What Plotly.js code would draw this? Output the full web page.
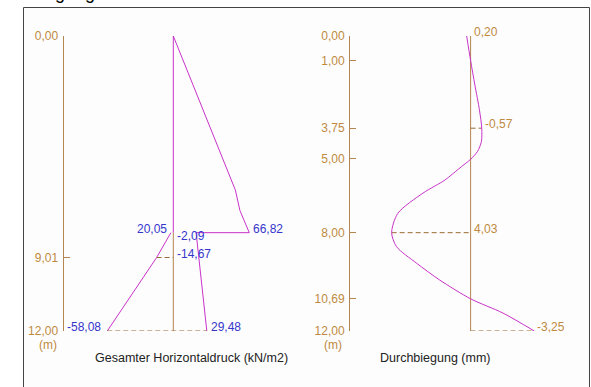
<!DOCTYPE html>
<html>
<head>
<meta charset="utf-8">
<script src="https://cdn.plot.ly/plotly-3.0.1.min.js"></script>
<style>html,body{margin:0;padding:0;background:#fff;}#chart{width:591px;height:387px;}</style>
</head>
<body>
<div id="chart"></div>
<script>
// ---- data ----
// Gesamter Horizontaldruck (kN/m2), depth in m
var pressPosDepth = [0, 6.27, 7.1, 8.0, 8.0, 12.0];
var pressPosValue = [0, 54.6, 58.6, 66.82, 20.05, 29.48];
var pressNegDepth = [8.0, 9.01, 12.0];
var pressNegValue = [-2.09, -14.67, -58.08];
var pressTickVals = [0, 9.01, 12];
var pressTickText = ['0,00', '9,01', '12,00'];
var pressLabels = [
  {d: 8.0, v: 66.82, t: '66,82', side: 'right', dy: 4},
  {d: 8.0, v: 0, t: '20,05', side: 'left', dy: 4},
  {d: 8.0, v: 0, t: '-2,09', side: 'right', dy: -3},
  {d: 9.01, v: 0, t: '-14,67', side: 'right', dy: 4},
  {d: 12.0, v: -58.08, t: '-58,08', side: 'left', dy: 4},
  {d: 12.0, v: 29.48, t: '29,48', side: 'right', dy: 4}
];

// Durchbiegung (mm), depth in m
var deflDepth = [0, 1.0, 2.0, 3.0, 3.75, 4.3, 4.7, 5.0, 5.4, 5.86, 6.39, 7.21, 8.0, 8.57, 9.24, 9.93, 10.69, 11.27, 12.0];
var deflValue = [0.20, 0.0, -0.22, -0.45, -0.57, -0.55, -0.35, -0.02, 0.6, 1.31, 2.43, 3.71, 4.03, 3.78, 2.76, 1.57, 0.0, -1.65, -3.25];
var deflTickVals = [0, 1, 3.75, 5, 8, 10.69, 12];
var deflTickText = ['0,00', '1,00', '3,75', '5,00', '8,00', '10,69', '12,00'];
var deflLabels = [
  {d: 0, v: 0, t: '0,20'},
  {d: 3.75, v: -0.57, t: '-0,57'},
  {d: 8.0, v: 0, t: '4,03'},
  {d: 12.0, v: -3.25, t: '-3,25'}
];

// ---- styles ----
var W = 591, H = 387;
var MAG = '#c832c8', AX = '#b4854e', LBL = '#bf8a3f', DASH = '#9c6b35', BLUE = '#3535cc';
var FONT = 'Liberation Sans, Arial, sans-serif';
function px(x) { return x / W; }
function py(y) { return 1 - y / H; }

var traces = [
  // left chart
  {x: [0, 0], y: [0, 8.0], xaxis: 'x', yaxis: 'y', mode: 'lines', line: {color: MAG, width: 1}},
  {x: [0, 0], y: [8.0, 12.0], xaxis: 'x', yaxis: 'y', mode: 'lines', line: {color: AX, width: 1}},
  {x: pressPosValue, y: pressPosDepth, xaxis: 'x', yaxis: 'y', mode: 'lines', line: {color: MAG, width: 1}},
  {x: pressNegValue, y: pressNegDepth, xaxis: 'x', yaxis: 'y', mode: 'lines', line: {color: MAG, width: 1}},
  {x: [pressNegValue[1], 0], y: [pressNegDepth[1], pressNegDepth[1]], xaxis: 'x', yaxis: 'y', mode: 'lines', line: {color: DASH, width: 1, dash: '5px,3px'}},
  {x: [pressNegValue[2], pressPosValue[5]], y: [12, 12], xaxis: 'x', yaxis: 'y', mode: 'lines', line: {color: DASH, width: 1, dash: '5px,3px'}},
  // right chart
  {x: [0, 0], y: [0, 12], xaxis: 'x2', yaxis: 'y2', mode: 'lines', line: {color: AX, width: 1}},
  {x: [0, deflValue[4]], y: [3.75, 3.75], xaxis: 'x2', yaxis: 'y2', mode: 'lines', line: {color: DASH, width: 1, dash: '5px,3px'}},
  {x: [deflValue[12], 0], y: [8, 8], xaxis: 'x2', yaxis: 'y2', mode: 'lines', line: {color: DASH, width: 1, dash: '5px,3px'}},
  {x: [0, deflValue[18]], y: [12, 12], xaxis: 'x2', yaxis: 'y2', mode: 'lines', line: {color: DASH, width: 1, dash: '5px,3px'}},
  {x: deflValue, y: deflDepth, xaxis: 'x2', yaxis: 'y2', mode: 'lines', line: {color: MAG, width: 1, shape: 'spline', smoothing: 0.8}}
];

var annotations = [];
pressLabels.forEach(function (l) {
  annotations.push({x: l.v, y: l.d, xref: 'x', yref: 'y', text: l.t, showarrow: false,
    xanchor: l.side === 'right' ? 'left' : 'right', xshift: l.side === 'right' ? 2 : -4, yshift: l.dy,
    font: {family: FONT, size: 12, color: BLUE}});
});
deflLabels.forEach(function (l) {
  annotations.push({x: l.v, y: l.d, xref: 'x2', yref: 'y2', text: l.t, showarrow: false,
    xanchor: 'left', xshift: 1, yshift: 4, font: {family: FONT, size: 12, color: LBL}});
});
annotations.push({x: px(47.5), y: py(344.5), xref: 'paper', yref: 'paper', text: '(m)', showarrow: false,
  xanchor: 'center', yanchor: 'middle', font: {family: FONT, size: 12, color: LBL}});
annotations.push({x: px(333), y: py(345), xref: 'paper', yref: 'paper', text: '(m)', showarrow: false,
  xanchor: 'center', yanchor: 'middle', font: {family: FONT, size: 12, color: LBL}});
annotations.push({x: px(191.5), y: py(357.5), xref: 'paper', yref: 'paper', text: 'Gesamter Horizontaldruck (kN/m2)', showarrow: false,
  xanchor: 'center', yanchor: 'middle', font: {family: FONT, size: 12.5, color: '#222'}});
annotations.push({x: px(434.5), y: py(357.5), xref: 'paper', yref: 'paper', text: 'Durchbiegung (mm)', showarrow: false,
  xanchor: 'center', yanchor: 'middle', font: {family: FONT, size: 12.5, color: '#222'}});
annotations.push({x: px(27), y: py(4.5), xref: 'paper', yref: 'paper', text: 'Biegung', showarrow: false,
  xanchor: 'left', yanchor: 'bottom', font: {family: FONT, size: 18, color: '#000'}});

function yax(anchor, vals, texts) {
  return {
    anchor: anchor, domain: [py(331), py(36)], range: [12, 0], autorange: false,
    showline: true, linecolor: AX, linewidth: 1, ticks: 'inside', ticklen: 6, tickcolor: AX, tickwidth: 1,
    tickmode: 'array', tickvals: vals, ticktext: texts, tickfont: {family: FONT, size: 12, color: LBL},
    ticklabelstandoff: 2,
    showgrid: false, zeroline: false, fixedrange: true
  };
}

var layout = {
  width: W, height: H, margin: {l: 0, r: 0, t: 0, b: 0, pad: 0},
  paper_bgcolor: '#ffffff', plot_bgcolor: 'rgba(0,0,0,0)', showlegend: false,
  xaxis: {domain: [px(63.5), px(300)], range: [-96.57, 111.43], autorange: false, visible: false, fixedrange: true},
  yaxis: yax('x', pressTickVals, pressTickText),
  xaxis2: {domain: [px(350), px(570)], range: [6.156, -5.074], autorange: false, visible: false, fixedrange: true},
  yaxis2: yax('x2', deflTickVals, deflTickText),
  shapes: [
    {type: 'rect', xref: 'paper', yref: 'paper', x0: px(23.5), x1: px(589.5), y0: -0.05, y1: py(7.5),
      line: {color: '#444', width: 1}, fillcolor: '#fdfdfd', layer: 'below'}
  ],
  annotations: annotations
};

Plotly.newPlot('chart', traces, layout, {staticPlot: true, displayModeBar: false});
</script>
</body>
</html>
